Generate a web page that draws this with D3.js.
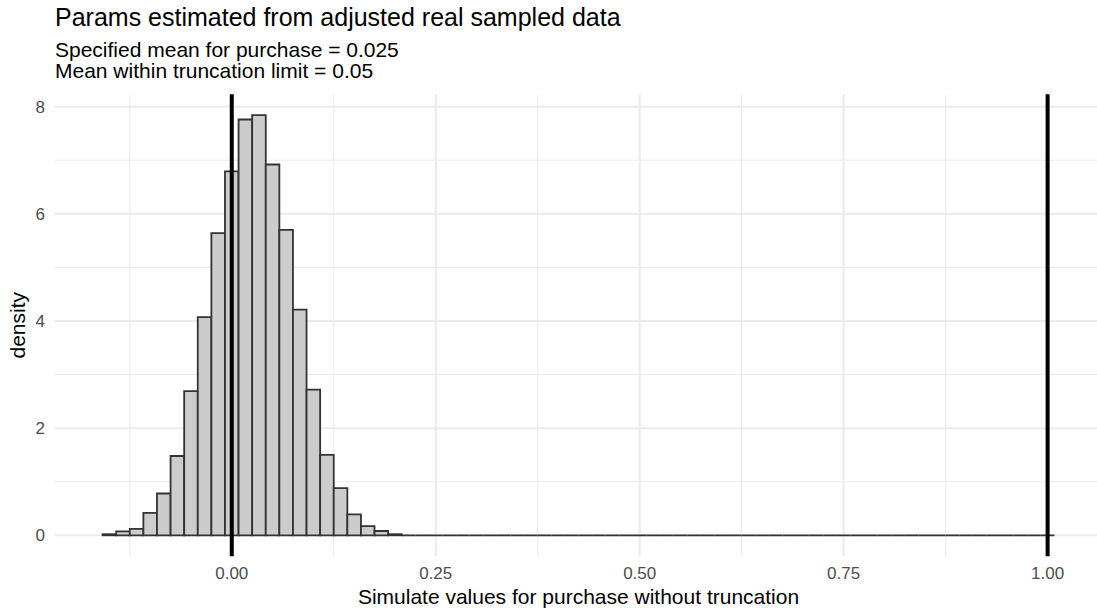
<!DOCTYPE html>
<html>
<head>
<meta charset="utf-8">
<script src="https://cdn.jsdelivr.net/npm/d3@7"></script>
<style>
  body { margin: 0; background: #fff; }
  svg { display: block; font-family: "Liberation Sans", Arial, sans-serif; }
</style>
</head>
<body>
<svg id="chart" width="1097" height="610"></svg>
<script>
// histogram, 70 bins, width 1/60, first bin centred at -0.15
var binWidth = 1 / 60;
var firstCenter = -0.15;
var density = [
  0.02, 0.075, 0.12, 0.42, 0.78, 1.48, 2.69, 4.07, 5.64, 6.79,
  7.76, 7.84, 6.92, 5.70, 4.21, 2.72, 1.50, 0.88, 0.39, 0.17,
  0.08, 0.02, 0, 0, 0, 0, 0, 0, 0, 0,
  0, 0, 0, 0, 0, 0, 0, 0, 0, 0,
  0, 0, 0, 0, 0, 0, 0, 0, 0, 0,
  0, 0, 0, 0, 0, 0, 0, 0, 0, 0,
  0, 0, 0, 0, 0, 0, 0, 0, 0, 0
];
var vlines = [0, 1];
var xTicks = [0, 0.25, 0.5, 0.75, 1];
var xTickLabels = ["0.00", "0.25", "0.50", "0.75", "1.00"];
var yTicks = [0, 2, 4, 6, 8];
var title = "Params estimated from adjusted real sampled data";
var subtitle = ["Specified mean for purchase = 0.025", "Mean within truncation limit = 0.05"];
var xTitle = "Simulate values for purchase without truncation";
var yTitle = "density";

var svg = d3.select("#chart");

var bins = density.map(function(d, i) {
  var c = firstCenter + i * binWidth;
  return {x0: c - binWidth / 2, x1: c + binWidth / 2, d: d};
});

// ggplot style 5% expansion
var xlo = bins[0].x0, xhi = bins[bins.length - 1].x1;
var xpad = (xhi - xlo) * 0.05;
var ymax = d3.max(density), ypad = ymax * 0.05;

var x = d3.scaleLinear().domain([xlo - xpad, xhi + xpad]).range([55, 1102]);
var y = d3.scaleLinear().domain([-ypad, ymax + ypad]).range([556.3, 94.2]);

var panel = svg.append("g");

// minor grid
var xMinor = [-0.125, 0.125, 0.375, 0.625, 0.875];
var yMinor = [1, 3, 5, 7];
panel.selectAll(".xminor").data(xMinor).enter().append("line")
  .attr("x1", x).attr("x2", x).attr("y1", y.range()[0]).attr("y2", y.range()[1])
  .attr("stroke", "#ebebeb").attr("stroke-width", 1.1);
panel.selectAll(".yminor").data(yMinor).enter().append("line")
  .attr("x1", x.range()[0]).attr("x2", x.range()[1]).attr("y1", y).attr("y2", y)
  .attr("stroke", "#ebebeb").attr("stroke-width", 1.1);
// major grid
panel.selectAll(".xmajor").data(xTicks).enter().append("line")
  .attr("x1", x).attr("x2", x).attr("y1", y.range()[0]).attr("y2", y.range()[1])
  .attr("stroke", "#ebebeb").attr("stroke-width", 2);
panel.selectAll(".ymajor").data(yTicks).enter().append("line")
  .attr("x1", x.range()[0]).attr("x2", x.range()[1]).attr("y1", y).attr("y2", y)
  .attr("stroke", "#ebebeb").attr("stroke-width", 2);

// bars (paths so that empty bins still show their outline)
panel.selectAll(".bar").data(bins).enter().append("path")
  .attr("class", "bar")
  .attr("d", function(b) {
    return "M" + x(b.x0) + "," + y(0) + "V" + y(b.d) + "H" + x(b.x1) + "V" + y(0) + "Z";
  })
  .attr("fill", "#cccccc")
  .attr("stroke", "#333333")
  .attr("stroke-width", 1.8);

// vertical reference lines
panel.selectAll(".vline").data(vlines).enter().append("line")
  .attr("x1", x).attr("x2", x).attr("y1", y.range()[0]).attr("y2", y.range()[1])
  .attr("stroke", "#000").attr("stroke-width", 4);

// axis labels
svg.selectAll(".xlab").data(xTicks).enter().append("text")
  .attr("x", x).attr("y", 579)
  .attr("text-anchor", "middle")
  .attr("font-size", 17).attr("fill", "#4d4d4d")
  .text(function(d, i) { return xTickLabels[i]; });

svg.selectAll(".ylab").data(yTicks).enter().append("text")
  .attr("x", 45).attr("y", y).attr("dy", "0.36em")
  .attr("text-anchor", "end")
  .attr("font-size", 17).attr("fill", "#4d4d4d")
  .text(function(d) { return d; });

svg.append("text")
  .attr("x", (x.range()[0] + x.range()[1]) / 2).attr("y", 604)
  .attr("text-anchor", "middle").attr("font-size", 21).attr("fill", "#000")
  .text(xTitle);

svg.append("text")
  .attr("transform", "translate(25," + (y.range()[0] + y.range()[1]) / 2 + ") rotate(-90)")
  .attr("text-anchor", "middle").attr("font-size", 21).attr("fill", "#000")
  .text(yTitle);

// titles
svg.append("text").attr("x", 55).attr("y", 26)
  .attr("font-size", 25).attr("fill", "#000").text(title);
svg.selectAll(".sub").data(subtitle).enter().append("text")
  .attr("x", 55).attr("y", function(d, i) { return 57 + i * 21; })
  .attr("font-size", 21).attr("fill", "#000")
  .text(function(d) { return d; });
</script>
</body>
</html>
